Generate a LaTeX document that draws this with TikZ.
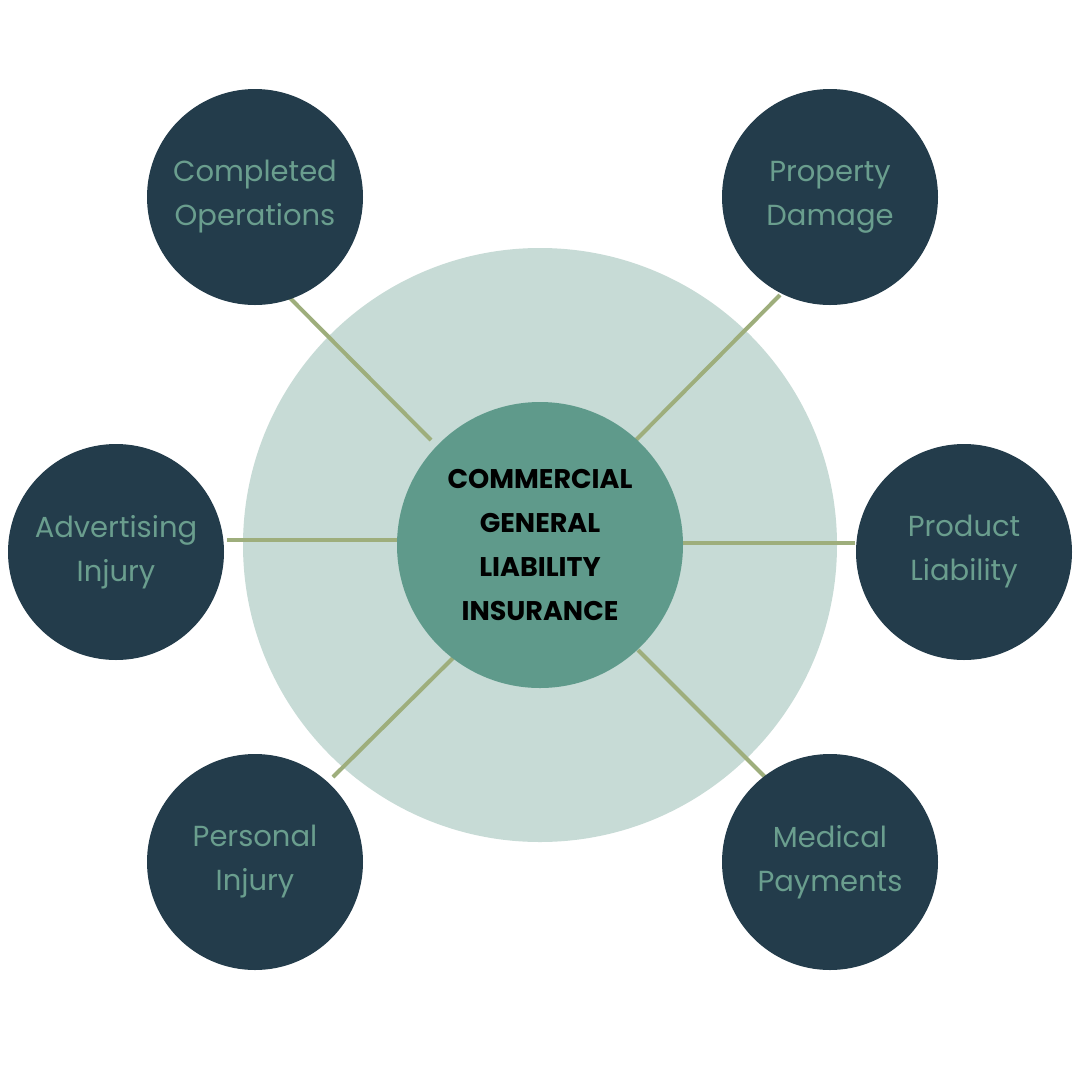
\documentclass[tikz,border=0pt]{standalone}
\usepackage{fontspec}
\setmainfont{Poppins}
\definecolor{navy}{HTML}{233C4B}
\definecolor{sage}{HTML}{5F9A8B}
\definecolor{pale}{HTML}{C7DBD6}
\definecolor{olive}{HTML}{9EAE7C}
\definecolor{txt}{HTML}{6A9E8E}
\begin{document}
\begin{tikzpicture}[x=1pt,y=-1pt,
  outer/.style={circle,fill=navy,minimum size=216pt,inner sep=0pt,text=txt,align=center,font=\fontsize{29}{44}\selectfont},
  conn/.style={olive,line width=4pt}]
\useasboundingbox (0,0) rectangle (1080,1080);
\fill[white] (0,0) rectangle (1080,1080);
\node[circle,fill=pale,minimum size=594pt,inner sep=0pt] (big) at (540,545) {};
\coordinate (c) at (540,545);
\coordinate (e1) at (287,295);
\coordinate (e2) at (780,295);
\coordinate (e3) at (227,540);
\coordinate (e4) at (855,543);
\coordinate (e5) at (333,777);
\coordinate (e6) at (765,777);
\coordinate (i1) at (431,440);
\coordinate (i2) at (636,440);
\coordinate (i3) at (400,540);
\coordinate (i4) at (680,543);
\coordinate (i5) at (453,658);
\coordinate (i6) at (638,650);
\draw[conn] (e1) -- (i1);
\draw[conn] (e2) -- (i2);
\draw[conn] (e3) -- (i3);
\draw[conn] (e4) -- (i4);
\draw[conn] (e5) -- (i5);
\draw[conn] (e6) -- (i6);
\node[circle,fill=sage,minimum size=286pt,inner sep=0pt,align=center,font=\bfseries\fontsize{27}{44}\selectfont] (ctr) at (c) {COMMERCIAL\\GENERAL\\LIABILITY\\INSURANCE};
\node[outer] (a) at (255,197) {Completed\\Operations};
\node[outer] (b) at (830,197) {Property\\Damage};
\node[outer] (d) at (116,552) {Advertising\\Injury};
\node[outer] (f) at (964,552) {Product\\Liability};
\node[outer] (g) at (255,862) {Personal\\Injury};
\node[outer] (h) at (830,862) {Medical\\Payments};
\end{tikzpicture}
\end{document}
